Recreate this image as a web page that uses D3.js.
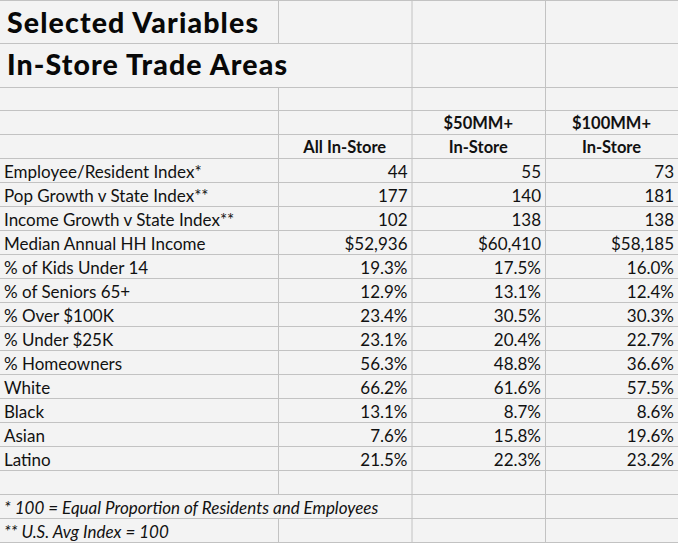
<!DOCTYPE html>
<html>
<head>
<meta charset="utf-8">
<script src="https://cdn.jsdelivr.net/npm/d3@7"></script>
<style>
  body { margin: 0; background: #f3f3f3; }
  svg { display: block; }
</style>
</head>
<body>
<div id="chart"></div>
<script>
// Table contents
const titles = ['Selected Variables', 'In-Store Trade Areas'];
const headTop = ['', '$50MM+', '$100MM+'];
const headBottom = ['All In-Store', 'In-Store', 'In-Store'];
const labels = [
  'Employee/Resident Index*', 'Pop Growth v State Index**', 'Income Growth v State Index**',
  'Median Annual HH Income', '% of Kids Under 14', '% of Seniors 65+', '% Over $100K',
  '% Under $25K', '% Homeowners', 'White', 'Black', 'Asian', 'Latino'
];
const kinds = ['int', 'int', 'int', 'usd', 'pct', 'pct', 'pct', 'pct', 'pct', 'pct', 'pct', 'pct', 'pct'];
const allInStore = [44, 177, 102, 52936, 19.3, 12.9, 23.4, 23.1, 56.3, 66.2, 13.1, 7.6, 21.5];
const mm50 = [55, 140, 138, 60410, 17.5, 13.1, 30.5, 20.4, 48.8, 61.6, 8.7, 15.8, 22.3];
const mm100 = [73, 181, 138, 58185, 16.0, 12.4, 30.3, 22.7, 36.6, 57.5, 8.6, 19.6, 23.2];
const footnotes = ['* 100 = Equal Proportion of Residents and Employees', '** U.S. Avg Index = 100'];

const width = 678, height = 543;
const fmt = {
  int: d3.format('d'),
  usd: v => '$' + d3.format(',')(v),
  pct: v => d3.format('.1f')(v) + '%'
};

const svg = d3.select('#chart').append('svg')
  .attr('width', width)
  .attr('height', height)
  .style('font-family', 'Lato, sans-serif');

svg.append('rect').attr('width', width).attr('height', height).attr('fill', '#f3f3f3');

// column edges: label column then three value columns
const colEdges = [0, 278, 411.5, 545, 678];
const x = d3.scaleOrdinal().domain([0, 1, 2, 3]).range(colEdges.slice(0, 4));
const colW = i => colEdges[i + 1] - colEdges[i];

// row tops: two title rows, a blank row, two header rows, then data rows of equal height
const rowH = 24;
const topRows = [0.5, 43.5, 87.5, 110.5, 134.5];
const y = d3.scaleLinear().domain([0, 1]).range([158.5, 158.5 + rowH]);
const nBody = labels.length + 1 + footnotes.length;
const lineYs = topRows.concat(d3.range(nBody + 1).map(i => y(i)));

// horizontal grid lines
svg.append('g').selectAll('line')
  .data(lineYs)
  .join('line')
    .attr('x1', 0).attr('x2', width)
    .attr('y1', d => d).attr('y2', d => d)
    .attr('stroke', '#c2c2c2');

// vertical grid lines, skipping cells where text overflows
const segs = [];
for (let r = 0; r < lineYs.length - 1; r++) {
  [1, 2, 3].forEach(c => {
    const overflow = c === 1 && (r === 1 || r === 5 + labels.length + 1);
    if (!overflow) segs.push({x: x(c) + 0.5, y1: lineYs[r], y2: lineYs[r + 1]});
  });
}
svg.append('g').selectAll('line')
  .data(segs)
  .join('line')
    .attr('x1', d => d.x).attr('x2', d => d.x)
    .attr('y1', d => d.y1).attr('y2', d => d.y2)
    .attr('stroke', '#c2c2c2');

// titles
const titleBase = [33, 75];
const titleLen = [251, 280];
svg.append('g').selectAll('text')
  .data(titles)
  .join('text')
    .attr('x', 7)
    .attr('y', (d, i) => titleBase[i])
    .attr('font-size', 28.5)
    .attr('font-weight', 900)
    .attr('fill', '#080808')
    .attr('textLength', (d, i) => titleLen[i])
    .attr('lengthAdjust', 'spacing')
    .text(d => d);

// column headers
const head = svg.append('g').attr('font-size', 16.5).attr('font-weight', 'bold')
  .attr('text-anchor', 'middle').attr('fill', '#111');
head.selectAll('.top')
  .data(headTop)
  .join('text')
    .attr('class', 'top')
    .attr('x', (d, i) => x(i + 1) + colW(i + 1) / 2)
    .attr('y', topRows[3] + 18)
    .text(d => d);
head.selectAll('.bottom')
  .data(headBottom)
  .join('text')
    .attr('class', 'bottom')
    .attr('x', (d, i) => x(i + 1) + colW(i + 1) / 2)
    .attr('y', topRows[4] + 18.5)
    .text(d => d);

// body rows
const body = svg.append('g').attr('font-size', 17).attr('fill', '#111');
body.selectAll('.label')
  .data(labels)
  .join('text')
    .attr('class', 'label')
    .attr('x', 4)
    .attr('y', (d, i) => y(i) + 19)
    .text(d => d);

[allInStore, mm50, mm100].forEach((series, c) => {
  body.selectAll('.v' + c)
    .data(series)
    .join('text')
      .attr('class', 'v' + c)
      .attr('text-anchor', 'end')
      .attr('x', x(c + 1) + colW(c + 1) - 4)
      .attr('y', (d, i) => y(i) + 19)
      .text((d, i) => fmt[kinds[i]](d));
});

// footnotes
body.selectAll('.note')
  .data(footnotes)
  .join('text')
    .attr('class', 'note')
    .attr('x', 4)
    .attr('y', (d, i) => y(labels.length + 1 + i) + 19)
    .attr('font-style', 'italic')
    .text(d => d);
</script>
</body>
</html>
